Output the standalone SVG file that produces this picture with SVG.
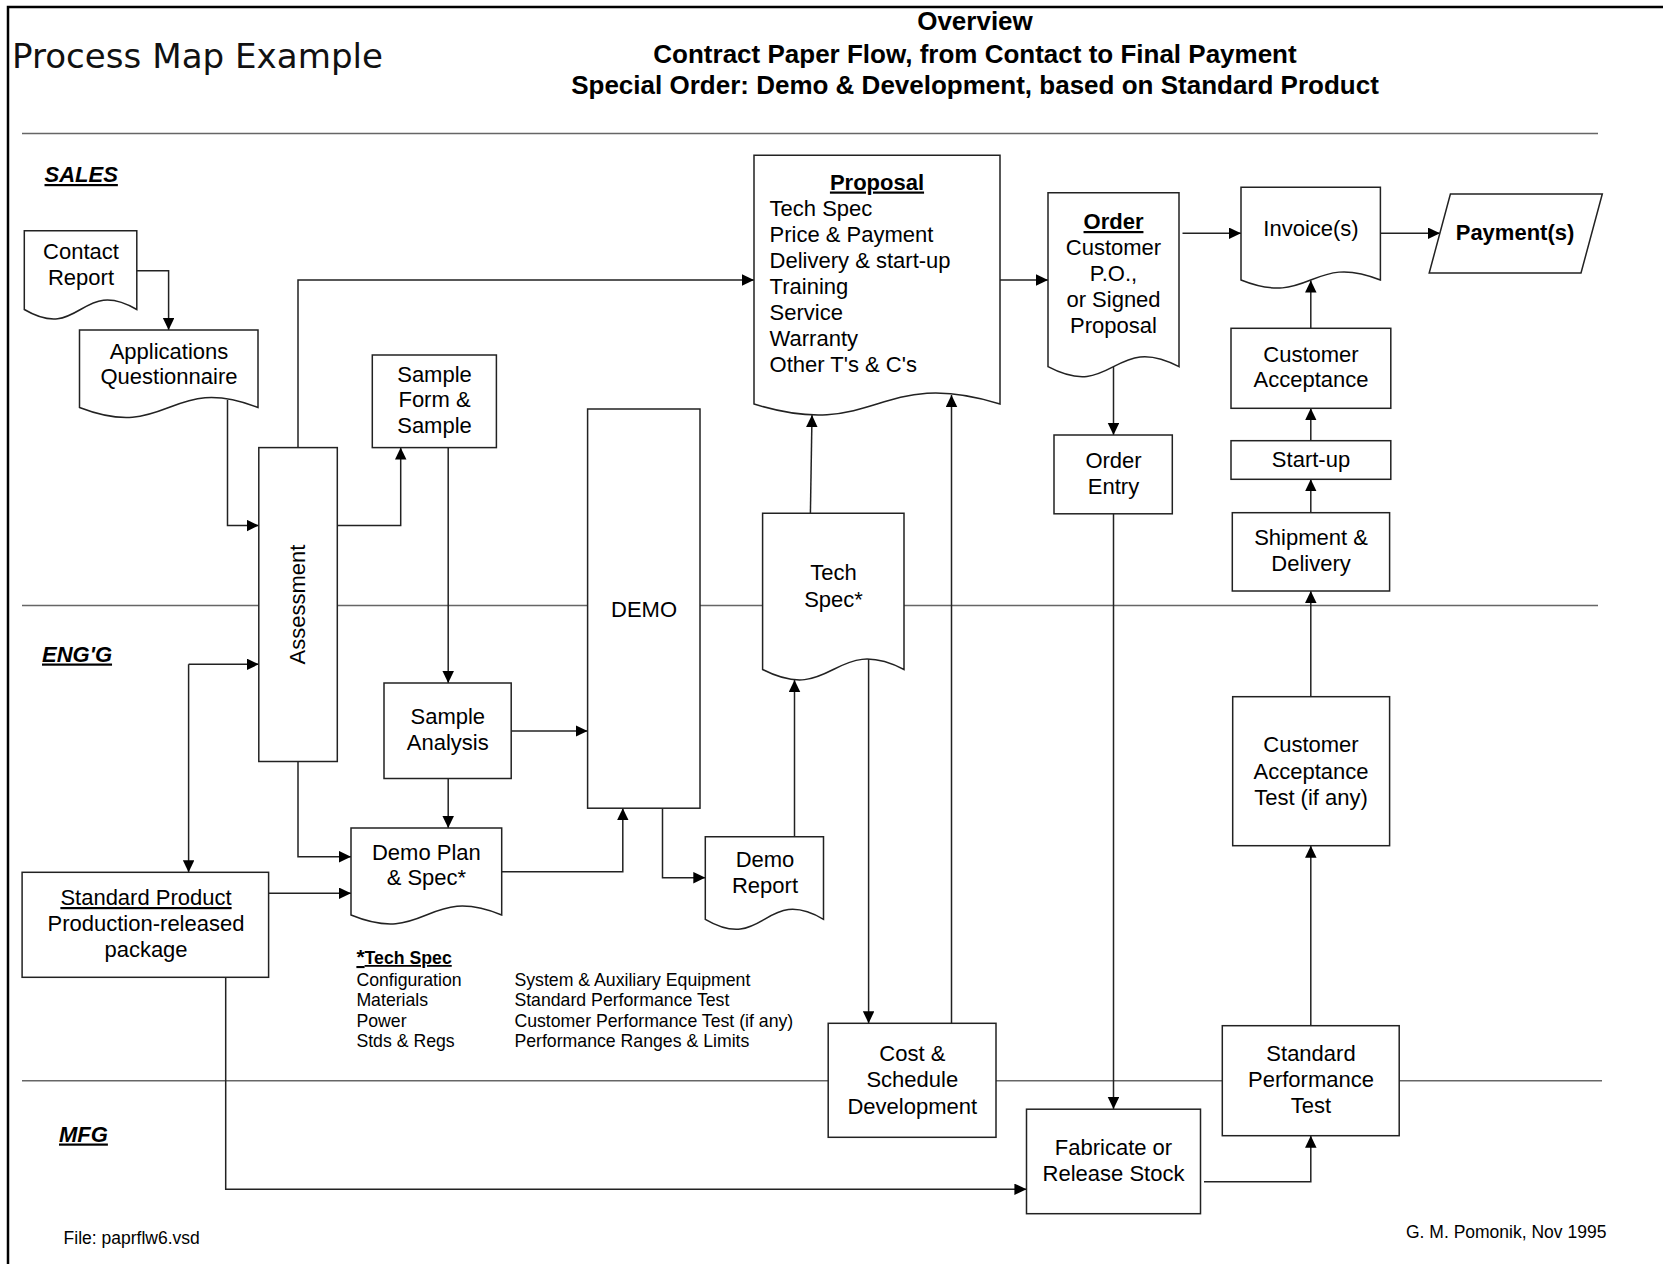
<svg xmlns="http://www.w3.org/2000/svg" width="1663" height="1264" viewBox="0 0 1663 1264">
  <style>
    .frame { fill: none; stroke: #000; stroke-width: 2.5; }
    .lane { stroke: #666; stroke-width: 1.5; }
    .box { fill: #fff; stroke: #222; stroke-width: 1.5; }
    .c { fill: none; stroke: #222; stroke-width: 1.5; marker-end: url(#ah); }
    .t { font-family: "Liberation Sans", Arial, sans-serif; font-size: 22px; fill: #000; text-anchor: middle; }
    .tl { font-family: "Liberation Sans", Arial, sans-serif; font-size: 22px; fill: #000; }
    .b { font-weight: bold; }
    .u { text-decoration: underline; }
    .lanelbl { font-family: "Liberation Sans", Arial, sans-serif; font-size: 22px; font-weight: bold; font-style: italic; text-decoration: underline; }
    .hdr { font-family: "Liberation Sans", Arial, sans-serif; font-size: 26px; font-weight: bold; text-anchor: middle; }
    .small { font-family: "Liberation Sans", Arial, sans-serif; font-size: 17.7px; }
    .foot { font-family: "Liberation Sans", Arial, sans-serif; font-size: 17.5px; }
  </style>
  <defs>
    <marker id="ah" markerUnits="userSpaceOnUse" markerWidth="12" markerHeight="12" refX="12" refY="5.75" orient="auto">
      <path d="M0,0 L12,5.75 L0,11.5 Z" fill="#000"/>
    </marker>
  </defs>

  <rect width="1663" height="1264" fill="#fff"/>
  <path class="frame" d="M8,1264 V7 H1663"/>

  <!-- titles -->
  <text x="12" y="68" font-family="DejaVu Sans, sans-serif" font-size="33.5" textLength="371" lengthAdjust="spacingAndGlyphs" fill="#111">Process Map Example</text>
  <text class="hdr" x="975" y="30">Overview</text>
  <text class="hdr" x="975" y="62.5">Contract Paper Flow, from Contact to Final Payment</text>
  <text class="hdr" x="975" y="93.5">Special Order: Demo &amp; Development, based on Standard Product</text>

  <!-- swim lanes -->
  <g id="lanes">
    <line class="lane" x1="22" y1="133.6" x2="1598" y2="133.6"/>
    <line class="lane" x1="22" y1="605.6" x2="1598" y2="605.6"/>
    <line class="lane" x1="22" y1="1080.8" x2="1602" y2="1080.8"/>
    <text class="lanelbl" x="44.5" y="182">SALES</text>
    <text class="lanelbl" x="42" y="661.5">ENG'G</text>
    <text class="lanelbl" x="59" y="1141.5">MFG</text>
  </g>

  <!-- connectors -->
  <g id="connectors">
    <path class="c" d="M135.8,270.7 H168.6 V330"/>
    <path class="c" d="M227.5,400 V525.5 H258.8"/>
    <path class="c" d="M337.3,525.5 H400.7 V447.6"/>
    <path class="c" d="M298,447.6 V280 H754"/>
    <path class="c" d="M448.2,447.6 V683"/>
    <path class="c" d="M188.6,664.3 V872.3"/>
    <path class="c" d="M188.6,664.3 H258.8"/>
    <path class="c" d="M298,761.5 V856.7 H351"/>
    <path class="c" d="M268.6,893.3 H351"/>
    <path class="c" d="M448.2,778.5 V828"/>
    <path class="c" d="M511.2,731 H587.6"/>
    <path class="c" d="M501.7,871.8 H622.8 V808.2"/>
    <path class="c" d="M662.5,808.2 V877.7 H705.3"/>
    <path class="c" d="M794.5,836.8 V680"/>
    <path class="c" d="M810.4,513.3 L812,415"/>
    <path class="c" d="M868.6,650 V1023.3"/>
    <path class="c" d="M951.5,1023.3 V395"/>
    <path class="c" d="M1000,280 H1048"/>
    <path class="c" d="M1182.5,233.3 H1241"/>
    <path class="c" d="M1380.4,233.3 H1440"/>
    <path class="c" d="M1113.5,360 V435"/>
    <path class="c" d="M1113.5,514 V1109"/>
    <path class="c" d="M225.7,977.3 V1189.3 H1026.4"/>
    <path class="c" d="M1204,1181.7 H1310.8 V1135.7"/>
    <path class="c" d="M1310.8,1025.7 V845.7"/>
    <path class="c" d="M1310.8,696.7 V591"/>
    <path class="c" d="M1310.8,512.7 V479.3"/>
    <path class="c" d="M1310.8,440.7 V408.3"/>
    <path class="c" d="M1310.8,328.3 V280.5"/>
  </g>

  <!-- sales lane -->
  <g id="contact-report">
    <path class="box" d="M24.3,230.7 H136.8 V309.5 C80.5,276.5 80.5,342.5 24.3,309.5 Z"/>
    <text class="t" x="81" y="258.5">Contact</text>
    <text class="t" x="81" y="284.5">Report</text>
  </g>
  <g id="applications-questionnaire">
    <path class="box" d="M79.5,330 H258 V407.5 C168.8,372.9 168.8,442.1 79.5,407.5 Z"/>
    <text class="t" x="169" y="358.5">Applications</text>
    <text class="t" x="169" y="384">Questionnaire</text>
  </g>
  <g id="assessment">
    <rect class="box" x="258.8" y="447.6" width="78.5" height="313.9"/>
    <text class="t" transform="translate(305,604.5) rotate(-90)">Assessment</text>
  </g>
  <g id="sample-form">
    <rect class="box" x="372.3" y="355" width="124.1" height="92.6"/>
    <text class="t" x="434.5" y="381.5">Sample</text>
    <text class="t" x="434.5" y="407">Form &amp;</text>
    <text class="t" x="434.5" y="432.5">Sample</text>
  </g>
  <g id="proposal">
    <path class="box" d="M754,155.3 H1000 V404 C877,366 877,442 754,404 Z"/>
    <text class="t b u" x="877" y="189.5">Proposal</text>
    <text class="tl" x="769.6" y="215.5">Tech Spec</text>
    <text class="tl" x="769.6" y="241.5">Price &amp; Payment</text>
    <text class="tl" x="769.6" y="267.6">Delivery &amp; start-up</text>
    <text class="tl" x="769.6" y="293.6">Training</text>
    <text class="tl" x="769.6" y="319.6">Service</text>
    <text class="tl" x="769.6" y="345.6">Warranty</text>
    <text class="tl" x="769.6" y="371.6">Other T's &amp; C's</text>
  </g>
  <g id="order">
    <path class="box" d="M1048,192.7 H1179 V366.7 C1113.5,332.1 1113.5,401.3 1048,366.7 Z"/>
    <text class="t b u" x="1113.5" y="229">Order</text>
    <text class="t" x="1113.5" y="255">Customer</text>
    <text class="t" x="1113.5" y="281">P.O.,</text>
    <text class="t" x="1113.5" y="307">or Signed</text>
    <text class="t" x="1113.5" y="333">Proposal</text>
  </g>
  <g id="invoices">
    <path class="box" d="M1241,187.3 H1380.4 V280 C1310.7,252 1310.7,308 1241,280 Z"/>
    <text class="t" x="1311" y="236">Invoice(s)</text>
  </g>
  <g id="payments">
    <path class="box" d="M1450.4,194 H1602.3 L1581,273 H1429.2 Z"/>
    <text class="t b" x="1515" y="240">Payment(s)</text>
  </g>
  <g id="customer-acceptance">
    <rect class="box" x="1231" y="328.3" width="159.8" height="80"/>
    <text class="t" x="1311" y="361.5">Customer</text>
    <text class="t" x="1311" y="387">Acceptance</text>
  </g>
  <g id="order-entry">
    <rect class="box" x="1054" y="435" width="118.3" height="78.8"/>
    <text class="t" x="1113.5" y="468">Order</text>
    <text class="t" x="1113.5" y="494.2">Entry</text>
  </g>
  <g id="start-up">
    <rect class="box" x="1231" y="440.7" width="159.8" height="38.6"/>
    <text class="t" x="1311" y="466.7">Start-up</text>
  </g>
  <g id="shipment-delivery">
    <rect class="box" x="1232.3" y="512.7" width="157.3" height="78.3"/>
    <text class="t" x="1311" y="545">Shipment &amp;</text>
    <text class="t" x="1311" y="570.6">Delivery</text>
  </g>

  <!-- engineering lane -->
  <g id="demo">
    <rect class="box" x="587.6" y="409" width="112.4" height="399.2"/>
    <text class="t" x="644" y="617">DEMO</text>
  </g>
  <g id="tech-spec">
    <path class="box" d="M762.6,513.3 H904 V669.5 C833.3,633.5 833.3,705.5 762.6,669.5 Z"/>
    <text class="t" x="833.5" y="580">Tech</text>
    <text class="t" x="833.5" y="606.7">Spec*</text>
  </g>
  <g id="sample-analysis">
    <rect class="box" x="384" y="683" width="127.2" height="95.5"/>
    <text class="t" x="447.8" y="723.5">Sample</text>
    <text class="t" x="447.8" y="750">Analysis</text>
  </g>
  <g id="demo-plan">
    <path class="box" d="M351,828 H501.7 V915 C426.4,884 426.4,946 351,915 Z"/>
    <text class="t" x="426.4" y="859.5">Demo Plan</text>
    <text class="t" x="426.4" y="885">&amp; Spec*</text>
  </g>
  <g id="demo-report">
    <path class="box" d="M705.3,836.8 H823.5 V919.3 C764.4,884.7 764.4,953.9 705.3,919.3 Z"/>
    <text class="t" x="765" y="866.5">Demo</text>
    <text class="t" x="765" y="893">Report</text>
  </g>
  <g id="standard-product">
    <rect class="box" x="22.1" y="872.3" width="246.5" height="105"/>
    <text class="t u" x="146" y="905">Standard Product</text>
    <text class="t" x="146" y="931">Production-released</text>
    <text class="t" x="146" y="957">package</text>
  </g>
  <g id="customer-acceptance-test">
    <rect class="box" x="1232.7" y="696.7" width="156.9" height="149"/>
    <text class="t" x="1311" y="752">Customer</text>
    <text class="t" x="1311" y="778.5">Acceptance</text>
    <text class="t" x="1311" y="805">Test (if any)</text>
  </g>

  <!-- tech spec legend -->
  <g id="tech-spec-legend" class="small">
    <text x="356.4" y="964" font-weight="bold" text-decoration="underline"><tspan font-size="21">*</tspan>Tech Spec</text>
    <text x="356.4" y="985.5">Configuration</text>
    <text x="356.4" y="1006">Materials</text>
    <text x="356.4" y="1026.5">Power</text>
    <text x="356.4" y="1047">Stds &amp; Regs</text>
    <text x="514.4" y="985.5">System &amp; Auxiliary Equipment</text>
    <text x="514.4" y="1006">Standard Performance Test</text>
    <text x="514.4" y="1026.5">Customer Performance Test (if any)</text>
    <text x="514.4" y="1047">Performance Ranges &amp; Limits</text>
  </g>

  <!-- manufacturing lane -->
  <g id="cost-schedule">
    <rect class="box" x="828.2" y="1023.3" width="167.8" height="114"/>
    <text class="t" x="912.3" y="1060.6">Cost &amp;</text>
    <text class="t" x="912.3" y="1087">Schedule</text>
    <text class="t" x="912.3" y="1113.6">Development</text>
  </g>
  <g id="standard-performance-test">
    <rect class="box" x="1222.3" y="1025.7" width="176.9" height="110"/>
    <text class="t" x="1311" y="1060.6">Standard</text>
    <text class="t" x="1311" y="1087">Performance</text>
    <text class="t" x="1311" y="1112.6">Test</text>
  </g>
  <g id="fabricate">
    <rect class="box" x="1026.5" y="1109.2" width="174" height="104.5"/>
    <text class="t" x="1113.5" y="1155">Fabricate or</text>
    <text class="t" x="1113.5" y="1180.5">Release Stock</text>
  </g>

  <!-- footer -->
  <text class="foot" x="63.6" y="1244">File: paprflw6.vsd</text>
  <text class="foot" x="1406" y="1237.5">G. M. Pomonik, Nov 1995</text>
</svg>
